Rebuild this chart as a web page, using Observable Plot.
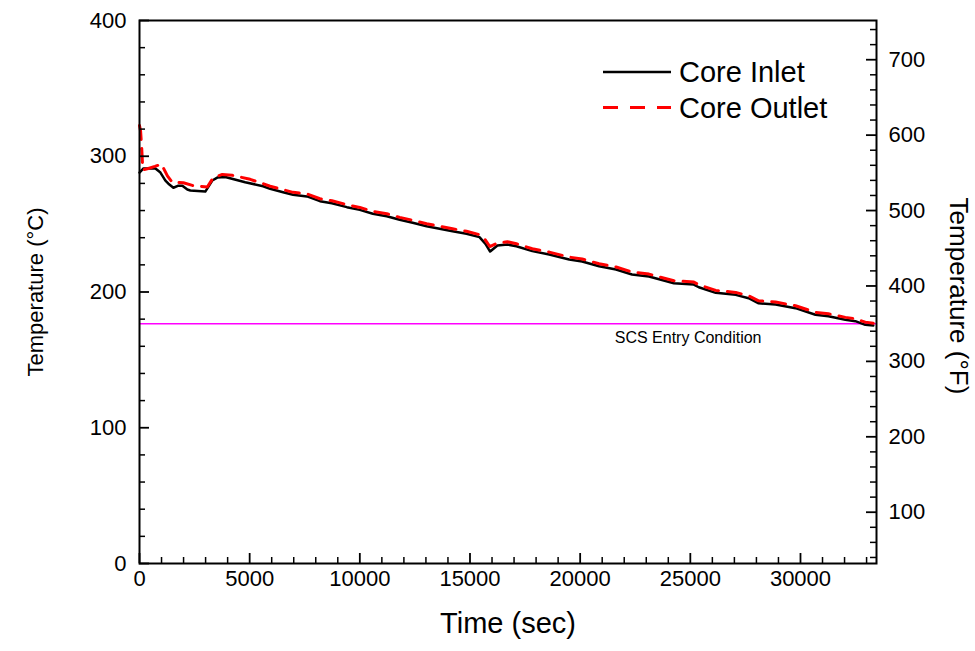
<!DOCTYPE html>
<html>
<head>
<meta charset="utf-8">
<script src="https://cdn.jsdelivr.net/npm/d3@7"></script>
<script src="https://cdn.jsdelivr.net/npm/@observablehq/plot@0.6"></script>
<style>
  body { margin: 0; background: #fff; font-family: "Liberation Sans", Arial, sans-serif; }
  #wrap { position: relative; width: 975px; height: 651px; }
  #legend { position: absolute; left: 0; top: 0; pointer-events: none; }
</style>
</head>
<body>
<div id="wrap"></div>
<script>
// ---- Data ----
const inletTime = [0, 181, 724, 950, 1176, 1312, 1539, 1765, 1946, 2172, 2308, 2987, 3303, 3530, 3892, 4797, 5611, 5928, 6516, 6969, 7602, 8190, 8733, 9412, 10000, 10589, 11222, 11810, 12399, 13032, 13620, 14209, 14842, 15430, 15702, 15914, 16245, 16697, 17105, 17829, 18598, 19503, 20091, 20860, 21630, 22354, 23123, 24254, 25159, 25385, 26155, 27060, 27648, 28100, 28870, 29774, 30679, 31268, 32037, 32490, 32942, 33304];
const inletTemp = [288.0, 291.0, 291.0, 288.0, 282.1, 279.8, 276.8, 278.3, 278.3, 275.5, 274.8, 274.0, 282.1, 284.3, 284.7, 280.9, 277.9, 276.0, 273.5, 271.6, 270.4, 266.9, 265.4, 262.5, 260.5, 257.6, 255.8, 253.2, 251.0, 248.5, 246.6, 244.8, 242.9, 240.4, 235.5, 229.8, 234.3, 235.0, 233.7, 230.1, 227.6, 223.9, 222.5, 219.0, 216.6, 212.9, 211.4, 206.5, 205.5, 203.5, 199.4, 197.9, 195.4, 191.7, 190.8, 188.1, 183.2, 182.2, 179.5, 178.5, 175.8, 175.3];

const outletTime = [0, 50, 100, 150, 400, 700, 995, 1267, 1493, 1991, 2398, 3077, 3350, 3756, 4208, 5023, 5611, 5928, 6516, 6969, 7602, 8190, 8733, 9412, 10000, 10589, 11222, 11810, 12399, 13032, 13620, 14209, 14842, 15430, 15650, 15900, 16245, 16697, 17105, 17829, 18598, 19503, 20091, 20860, 21630, 22354, 23123, 24254, 25159, 25385, 26155, 27060, 27648, 28100, 28870, 29774, 30679, 31268, 32037, 32490, 32942, 33304];
const outletTemp = [322.6, 318.5, 306.0, 290.0, 291.0, 292.5, 294.2, 285.5, 280.7, 280.5, 278.5, 277.3, 284.3, 286.6, 286.0, 283.0, 279.8, 277.9, 275.4, 273.4, 272.2, 268.7, 267.2, 264.3, 262.3, 259.4, 257.6, 255.0, 252.8, 250.3, 248.4, 246.6, 244.7, 242.2, 239.5, 233.5, 236.0, 237.0, 235.5, 231.9, 229.4, 225.7, 224.3, 220.8, 218.4, 214.7, 213.2, 208.3, 207.3, 205.3, 201.2, 199.7, 197.2, 193.5, 192.6, 189.9, 185.0, 184.0, 181.3, 180.3, 177.8, 177.0];

const seriesNames = ["Core Inlet", "Core Outlet"];
const scsEntryF = 350;               // SCS entry condition, °F
const scsLabel = "SCS Entry Condition";
const scsLabelTime = 24900;

const xMajor = [0, 5000, 10000, 15000, 20000, 25000, 30000];
const xMinor = d3.range(1000, 34000, 1000).filter(v => v % 5000 !== 0);
const cMajor = [0, 100, 200, 300, 400];
const cMinor = d3.range(20, 400, 20).filter(v => v % 100 !== 0);
const fMajor = [100, 200, 300, 400, 500, 600, 700];
const fMinor = d3.range(40, 752, 20).filter(v => v % 100 !== 0);

const xLabel = "Time (sec)";
const yLabelC = "Temperature (°C)";
const yLabelF = "Temperature (°F)";

// ---- Build ----
const W = 975, H = 651, ML = 139, MR = 99, MT = 20, MB = 88;
const FW = W - ML - MR, FH = H - MT - MB;
const MAJ = 10, MIN = 6;
const toC = f => (f - 32) / 1.8;
const toF = c => String(Math.round(c * 1.8 + 32));
const inlet = inletTime.map((t, i) => ({t, c: inletTemp[i]}));
const outlet = outletTime.map((t, i) => ({t, c: outletTemp[i]}));
const scsC = toC(scsEntryF);
const plain = d => String(d);
const id = d => d;

const chart = Plot.plot({
  width: W, height: H,
  marginLeft: ML, marginRight: MR, marginTop: MT, marginBottom: MB,
  style: {fontFamily: '"Liberation Sans", Arial, sans-serif', fontSize: "22px", color: "#000", background: "#fff", overflow: "visible"},
  x: {domain: [0, 33450]},
  y: {domain: [0, 400]},
  marks: [
    Plot.ruleY([scsC], {stroke: "#ff00ff", strokeWidth: 1.5}),
    Plot.text([scsLabel], {x: scsLabelTime, y: scsC, dy: 14, text: id, fontSize: 16, fill: "#000"}),
    Plot.line(inlet, {x: "t", y: "c", stroke: "#000", strokeWidth: 2.5}),
    Plot.line(outlet, {x: "t", y: "c", stroke: "#ff0000", strokeWidth: 3, strokeDasharray: "14,9"}),
    // bottom axis: inward ticks + labels
    Plot.tickX(xMajor, {x: id, insetTop: FH - MAJ, stroke: "#000", strokeWidth: 1.8}),
    Plot.tickX(xMinor, {x: id, insetTop: FH - MIN, stroke: "#000", strokeWidth: 1.5}),
    Plot.axisX(xMajor, {anchor: "bottom", tickSize: 0, tickPadding: 7, tickFormat: plain, label: null}),
    // left axis (°C)
    Plot.tickY(cMajor, {y: id, insetRight: FW - MAJ, stroke: "#000", strokeWidth: 1.8}),
    Plot.tickY(cMinor, {y: id, insetRight: FW - MIN, stroke: "#000", strokeWidth: 1.5}),
    Plot.axisY(cMajor, {anchor: "left", tickSize: 0, tickPadding: 13, tickFormat: plain, label: null}),
    // right axis (°F)
    Plot.tickY(fMajor.map(toC), {y: id, insetLeft: FW - MAJ, stroke: "#000", strokeWidth: 1.8}),
    Plot.tickY(fMinor.map(toC), {y: id, insetLeft: FW - MIN, stroke: "#000", strokeWidth: 1.5}),
    Plot.axisY(fMajor.map(toC), {anchor: "right", tickSize: 0, tickPadding: 12, tickFormat: toF, label: null}),
    Plot.frame({stroke: "#000", strokeWidth: 2}),
    // axis titles
    Plot.text([xLabel], {frameAnchor: "bottom", dy: 69, text: id, fontSize: 29, fill: "#000", textAnchor: "middle"}),
    Plot.text([yLabelC], {frameAnchor: "left", dx: -104, rotate: -90, text: id, fontSize: 22, fill: "#000", textAnchor: "middle"}),
    Plot.text([yLabelF], {frameAnchor: "right", dx: 82, dy: 4, rotate: 90, text: id, fontSize: 26, fill: "#000", textAnchor: "middle"})
  ]
});

const wrap = document.getElementById("wrap");
wrap.appendChild(chart);

// legend overlay (inside the plot area, top right)
const ns = "http://www.w3.org/2000/svg";
const leg = document.createElementNS(ns, "svg");
leg.setAttribute("id", "legend");
leg.setAttribute("width", W);
leg.setAttribute("height", H);
const legendStyles = [
  {stroke: "#000", width: 2.5, dash: null},
  {stroke: "#ff0000", width: 3, dash: "15,12"}
];
seriesNames.forEach((name, i) => {
  const y = 72 + i * 35.5;
  const ln = document.createElementNS(ns, "line");
  ln.setAttribute("x1", 603); ln.setAttribute("x2", 671);
  ln.setAttribute("y1", y); ln.setAttribute("y2", y);
  ln.setAttribute("stroke", legendStyles[i].stroke);
  ln.setAttribute("stroke-width", legendStyles[i].width);
  if (legendStyles[i].dash) ln.setAttribute("stroke-dasharray", legendStyles[i].dash);
  leg.appendChild(ln);
  const tx = document.createElementNS(ns, "text");
  tx.setAttribute("x", 679); tx.setAttribute("y", y + 10);
  tx.setAttribute("font-size", 29);
  tx.setAttribute("font-family", '"Liberation Sans", Arial, sans-serif');
  tx.setAttribute("fill", "#000");
  tx.textContent = name;
  leg.appendChild(tx);
});
wrap.appendChild(leg);
</script>
</body>
</html>
